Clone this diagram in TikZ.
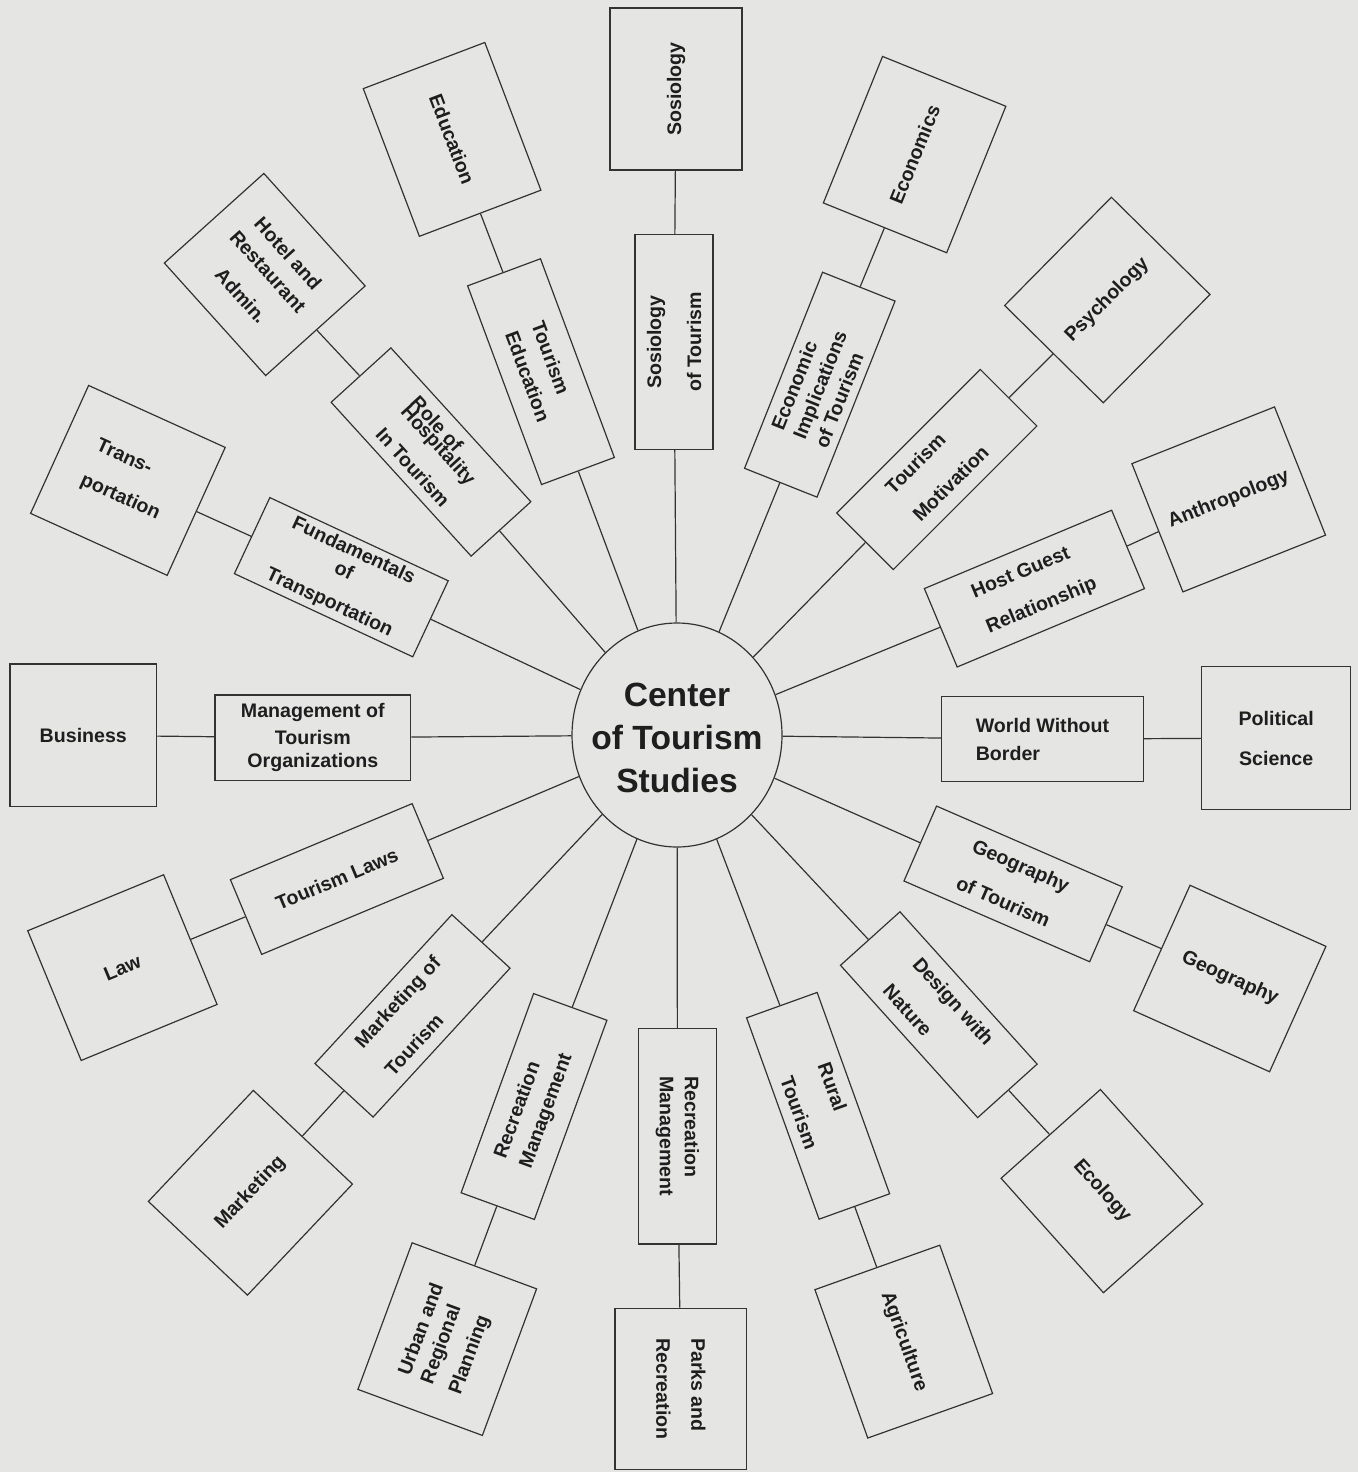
\documentclass[tikz,border=0pt]{standalone}
\usepackage{fontspec}
\setmainfont{Liberation Sans}
\usetikzlibrary{shapes.geometric}
\definecolor{paper}{HTML}{E5E6E4}
\definecolor{ink}{HTML}{333333}
\definecolor{letter}{HTML}{1E1E1E}
\begin{document}
\begin{tikzpicture}[x=0.5pt,y=-0.5pt,
  box/.style={draw=ink, line width=0.6pt, fill=paper, rectangle, inner sep=0pt,
    text=letter, font=\fontsize{9.8}{11.8}\selectfont\bfseries, align=center},
  sz/.style 2 args={minimum width=#1*0.5pt, minimum height=#2*0.5pt},
  spoke/.style={draw=ink, line width=0.6pt}]
\fill[paper] (0,0) rectangle (1358,1472);
\useasboundingbox (0,0) rectangle (1358,1472);

% hub
\node[ellipse, draw=ink, line width=0.6pt, fill=paper, minimum width=105pt,
      minimum height=112pt, inner sep=0pt] (hub) at (677,735) {};
\node[text=letter, align=center, font=\fontsize{16.8}{21.5}\selectfont\bfseries]
      (hubtext) at (677,738) {Center\\of Tourism\\Studies};

% inner ring
\node[box, sz={215}{78}, rotate=90] (in1) at (674,342) {Sosiology\\[8.2pt]of Tourism};
\node[box, sz={211}{78}, rotate=68.3, align=left] (in2) at (819.8,384.7) {Economic\\Implications\\of Tourism};
\node[box, sz={203}{80}, rotate=45, align=left] (in3) at (936.8,469.5) {Tourism\\[7.7pt]Motivation};
\node[box, sz={203}{85}, rotate=22.7, align=left] (in4) at (1034.4,588.6) {Host Guest\\[7.2pt]Relationship};
\node[box, sz={201.6}{85}, align=left] (in5) at (1042.5,739.2) {World Without\\[2.2pt]Border};
\node[box, sz={202.5}{81.7}, rotate=-23.5, align=left] (in6) at (1013.1,883.9) {Geography\\[8.2pt]of Tourism};
\node[box, sz={205}{80}, rotate=-48, align=left] (in7) at (938.8,1014.7) {Design with\\[8.2pt]Nature};
\node[box, sz={214}{75}, rotate=-70.2, align=left] (in8) at (818.1,1105.8) {Rural\\[8.2pt]Tourism};
\node[box, sz={215.7}{78.4}, rotate=-90, align=left] (in9) at (677.5,1136.2) {Recreation\\[0.7pt]Management};
\node[box, sz={212}{78}, rotate=70, align=left] (in10) at (534,1106.5) {Recreation\\[1.7pt]Management};
\node[box, sz={202.3}{79}, rotate=47.4, align=left] (in11) at (412.5,1015.85) {Marketing of\\[8.7pt]Tourism};
\node[box, sz={197}{81}, rotate=22.7] (in12) at (336.9,879) {Tourism Laws};
\node[box, sz={195.7}{85.7}] (in13) at (312.8,737.8) {Management of\\[1.7pt]Tourism\\[-0.3pt]Organizations};
\node[box, sz={196.8}{83.9}, rotate=-25] (in14) at (341.3,577.2) {Fundamentals\\[-0.3pt]of\\[5.2pt]Transportation};
\node[box, sz={208}{80.8}, rotate=-47.7, align=left] (in15) at (431,452) {Role of\\[-5.3pt]Hospitality\\[5.2pt]In Tourism};
\node[box, sz={212}{77.7}, rotate=-69.6, align=left] (in16) at (541,371.65) {Tourism\\[2.2pt]Education};

% outer ring
\node[box, sz={162}{132}, rotate=90] (out1) at (676,89) {Sosiology};
\node[box, sz={158}{133}, rotate=68] (out2) at (914.6,154.6) {Economics};
\node[box, sz={152}{138.5}, rotate=45.4] (out3) at (1107.3,300) {Psychology};
\node[box, sz={153.5}{138}, rotate=21.7] (out4) at (1228.7,499.4) {Anthropology};
\node[box, sz={149}{142.7}] (out5) at (1276.2,738) {Political\\[8.2pt]Science};
\node[box, sz={149}{137.5}, rotate=-24.2] (out6) at (1229.8,978.5) {Geography};
\node[box, sz={153.5}{133.2}, rotate=-48.2] (out7) at (1101.9,1191.1) {Ecology};
\node[box, sz={157.5}{132.5}, rotate=-70.4] (out8) at (903.75,1341.6) {Agriculture};
\node[box, sz={161}{131.7}, rotate=-90, align=left] (out9) at (680.8,1388.8) {Parks and\\[5.7pt]Recreation};
\node[box, sz={156.3}{132.7}, rotate=69.7, align=left] (out10) at (447.25,1339.1) {Urban and\\[0.2pt]Regional\\[3.2pt]Planning};
\node[box, sz={152.8}{136.4}, rotate=46.6] (out11) at (250.4,1192.75) {Marketing};
\node[box, sz={147}{140.3}, rotate=22.4] (out12) at (122.4,967.6) {Law};
\node[box, sz={146.7}{142.7}] (out13) at (83.3,735.3) {Business};
\node[box, sz={150}{140.5}, rotate=-24.4, align=left] (out14) at (127.9,480.4) {Trans-\\[7.2pt]portation};
\node[box, sz={151.4}{133.9}, rotate=-48] (out15) at (264.75,274.5) {Hotel and\\[1.7pt]Restaurant\\[6.2pt]Admin.};
\node[box, sz={158}{130}, rotate=-69.2] (out16) at (452.1,139.4) {Education};

% connectors
\foreach \k in {1,...,16} {
  \draw[spoke] (hub) -- (in\k);
  \draw[spoke] (in\k) -- (out\k);
}
\end{tikzpicture}
\end{document}
